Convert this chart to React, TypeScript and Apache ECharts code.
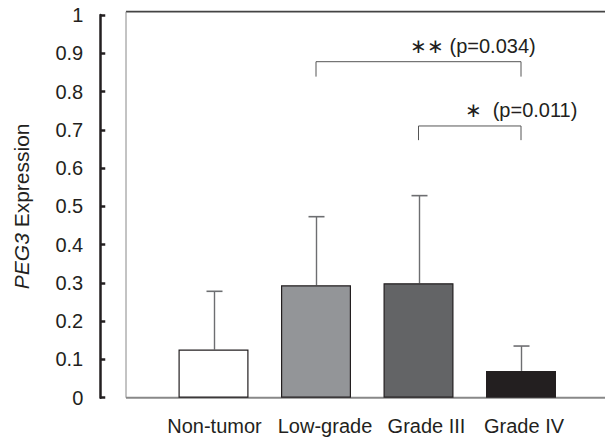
import React, { useEffect, useRef } from "react";
import * as echarts from "echarts";

const categories = ["Non-tumor", "Low-grade", "Grade III", "Grade IV"];
const means = [0.126, 0.294, 0.299, 0.07];
const upperErrors = [0.278, 0.473, 0.528, 0.135];
const barColors = ["#ffffff", "#939598", "#636466", "#231f20"];
const yTicks = [0, 0.1, 0.2, 0.3, 0.4, 0.5, 0.6, 0.7, 0.8, 0.9, 1];

// bracket: [startIdx, endIdx, topValue, bottomValue]
const brackets = [
  [1, 3, 0.878, 0.839],
  [2, 3, 0.71, 0.673],
];
const bracketLabels = ["∗∗ (p=0.034)", "∗  (p=0.011)"];
// label anchor: [categoryPosition, value]
const bracketLabelPos = [
  [2.53, 0.918],
  [3.0, 0.752],
];

const FONT = "'Liberation Sans', Arial, Helvetica, sans-serif";
const FS = 20;
const labelShift = [2, 18, 16, 6];

export default function App() {
  const ref = useRef<HTMLDivElement>(null);
  useEffect(() => {
    if (!ref.current) return;
    const chart = echarts.init(ref.current, null, { renderer: "svg" });
    const rich: any = {};
    labelShift.forEach((p, i) => {
      rich["c" + i] = { color: "#231f20", fontSize: FS, fontFamily: FONT, padding: [0, 0, 0, p] };
    });
    const option: any = {
      animation: false,
      textStyle: { fontFamily: FONT },
      grid: { left: 162.25, width: 410, top: 15, bottom: 41.3 },
      xAxis: {
        type: "category",
        data: categories,
        axisLine: { show: false },
        axisTick: { show: false },
        axisLabel: {
          color: "#231f20",
          fontSize: FS,
          margin: 18,
          interval: 0,
          fontFamily: FONT,
          formatter: (v: string, i: number) => `{c${i}|${v}}`,
          rich,
        },
      },
      yAxis: {
        type: "value",
        min: 0,
        max: 1,
        interval: 0.1,
        offset: 62,
        splitLine: { show: false },
        axisLine: { show: true, lineStyle: { color: "#231f20", width: 2.5 } },
        axisTick: { show: true, inside: true, length: 5, lineStyle: { color: "#231f20", width: 2.5 } },
        axisLabel: {
          color: "#231f20",
          fontSize: FS,
          margin: 17,
          fontFamily: FONT,
          formatter: (v: number) => {
            const t = yTicks.find((x) => Math.abs(x - v) < 1e-6);
            return String(t ?? v);
          },
        },
        name: "{i|PEG3} Expression",
        nameLocation: "middle",
        nameGap: 68,
        nameTextStyle: {
          color: "#231f20",
          fontSize: 21,
          fontFamily: FONT,
          rich: {
            i: { fontStyle: "italic", fontSize: 21, color: "#231f20", fontFamily: FONT },
          },
        },
      },
      graphic: [
        { type: "line", shape: { x1: 126, y1: 11.7, x2: 605, y2: 11.7 }, style: { stroke: "#444", lineWidth: 1.8 }, z: 1 },
        { type: "line", shape: { x1: 126, y1: 11.7, x2: 126, y2: 397.7 }, style: { stroke: "#888", lineWidth: 1 }, z: 1 },
        { type: "line", shape: { x1: 126, y1: 397.7, x2: 605, y2: 397.7 }, style: { stroke: "#888", lineWidth: 2 }, z: 1 },
      ],
      series: [
        {
          type: "bar",
          data: means.map((v, i) => ({ value: v, itemStyle: { color: barColors[i] } })),
          barWidth: 70,
          itemStyle: { borderColor: "#231f20", borderWidth: 1.2 },
          z: 3,
        },
        {
          type: "custom",
          z: 2,
          data: means.map((m, i) => [i, m, upperErrors[i]]),
          renderItem: (params: any, api: any) => {
            const i = api.value(0);
            const p0 = api.coord([i, api.value(1)]);
            const p1 = api.coord([i, api.value(2)]);
            const x = Math.round(p0[0]) + 0.5;
            return {
              type: "group",
              children: [
                { type: "line", shape: { x1: x, y1: p0[1], x2: x, y2: p1[1] }, style: { stroke: "#6d6e71", lineWidth: 1.4 } },
                { type: "line", shape: { x1: x - 8, y1: p1[1], x2: x + 8, y2: p1[1] }, style: { stroke: "#6d6e71", lineWidth: 1.6 } },
              ],
            };
          },
        },
        {
          type: "custom",
          z: 4,
          data: brackets.map((b, k) => [b[0], b[1], b[2], b[3], bracketLabelPos[k][0], bracketLabelPos[k][1], k]),
          renderItem: (params: any, api: any) => {
            const a = api.coord([api.value(0), api.value(2)]);
            const b = api.coord([api.value(1), api.value(2)]);
            const bottom = api.coord([api.value(0), api.value(3)])[1];
            const k = api.value(6);
            const tp = api.coord([0, api.value(5)]);
            const step = api.coord([1, 0])[0] - api.coord([0, 0])[0];
            const tx = api.coord([0, 0])[0] + step * api.value(4);
            return {
              type: "group",
              children: [
                {
                  type: "polyline",
                  shape: { points: [[a[0], bottom], [a[0], a[1]], [b[0], b[1]], [b[0], bottom]] },
                  style: { stroke: "#555", lineWidth: 1, fill: "none" },
                },
                {
                  type: "text",
                  x: tx,
                  y: tp[1],
                  style: {
                    text: bracketLabels[k],
                    fill: "#231f20",
                    font: `${FS}px ${FONT}`,
                    align: "center",
                    verticalAlign: "middle",
                  },
                },
              ],
            };
          },
        },
      ],
    };
    chart.setOption(option);
    return () => chart.dispose();
  }, []);
  return <div ref={ref} style={{ width: 605, height: 439, position: "absolute", left: 0, top: 0, background: "#fff" }} />;
}
